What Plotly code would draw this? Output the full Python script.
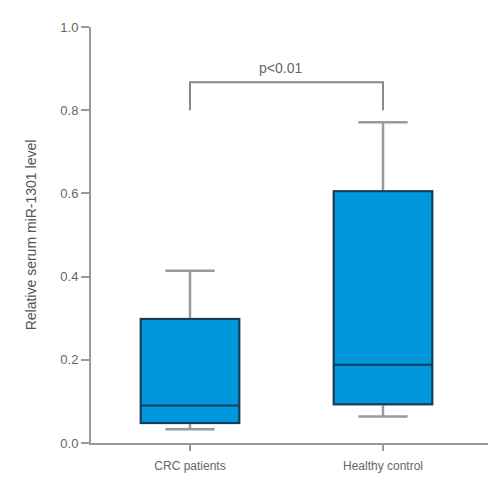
import plotly.graph_objects as go

categories = ["CRC patients", "Healthy control"]
lower_whisker = [0.033, 0.064]
q1_values = [0.048, 0.093]
median_values = [0.090, 0.188]
q3_values = [0.298, 0.605]
upper_whisker = [0.414, 0.771]

y_ticks = [0.0, 0.2, 0.4, 0.6, 0.8, 1.0]
y_tick_labels = ["0.0", "0.2", "0.4", "0.6", "0.8", "1.0"]
y_title = "Relative serum miR-1301 level"
p_text = "p<0.01"
bracket_top = 0.867
bracket_bottom = 0.800

FONT = "Liberation Sans, Arial, sans-serif"
GRAY = "#9a9a9a"

fig = go.Figure()
# whiskers (gray)
fig.add_trace(go.Box(
    x=categories, q1=q1_values, median=median_values, q3=q3_values,
    lowerfence=lower_whisker, upperfence=upper_whisker,
    fillcolor="rgba(0,0,0,0)", line=dict(color=GRAY, width=2.5),
    width=0.51, whiskerwidth=0.5, boxpoints=False, showlegend=False,
    hoverinfo="skip"))
# boxes (blue)
fig.add_trace(go.Box(
    x=categories, q1=q1_values, median=median_values, q3=q3_values,
    lowerfence=q1_values, upperfence=q3_values,
    fillcolor="#0098DC", line=dict(color="#143c5c", width=2),
    width=0.51, whiskerwidth=0, boxpoints=False, showlegend=False))

# significance bracket
fig.add_shape(type="path", xref="x", yref="y",
              path=f"M 0,{bracket_bottom} L 0,{bracket_top} L 1,{bracket_top} L 1,{bracket_bottom}",
              line=dict(color="#8a8a8a", width=2))
fig.add_annotation(x=0.47, y=bracket_top, yshift=4, text=p_text, showarrow=False,
                   yanchor="bottom", font=dict(family=FONT, size=14, color="#666"))

fig.update_layout(
    width=492, height=492, plot_bgcolor="white", paper_bgcolor="white",
    margin=dict(l=83, r=12, t=16, b=57),
    font=dict(family=FONT, size=12, color="#666"),
    xaxis=dict(type="category", range=[-0.513, 1.544], showline=True,
               linecolor=GRAY, linewidth=2, ticks="outside", ticklen=6,
               tickcolor=GRAY, tickwidth=2, showgrid=False, zeroline=False,
               ticklabelstandoff=5,
               tickfont=dict(size=12, color="#666")),
    yaxis=dict(range=[0, 1.0], tickvals=y_ticks, ticktext=y_tick_labels,
               showline=True, linecolor=GRAY, linewidth=2, ticks="outside",
               ticklen=8, tickcolor=GRAY, tickwidth=2, showgrid=False,
               zeroline=False, tickfont=dict(size=13, color="#666"),
               title=dict(text=y_title, font=dict(size=14, color="#555"), standoff=20)),
)

fig.write_html("out.html")
